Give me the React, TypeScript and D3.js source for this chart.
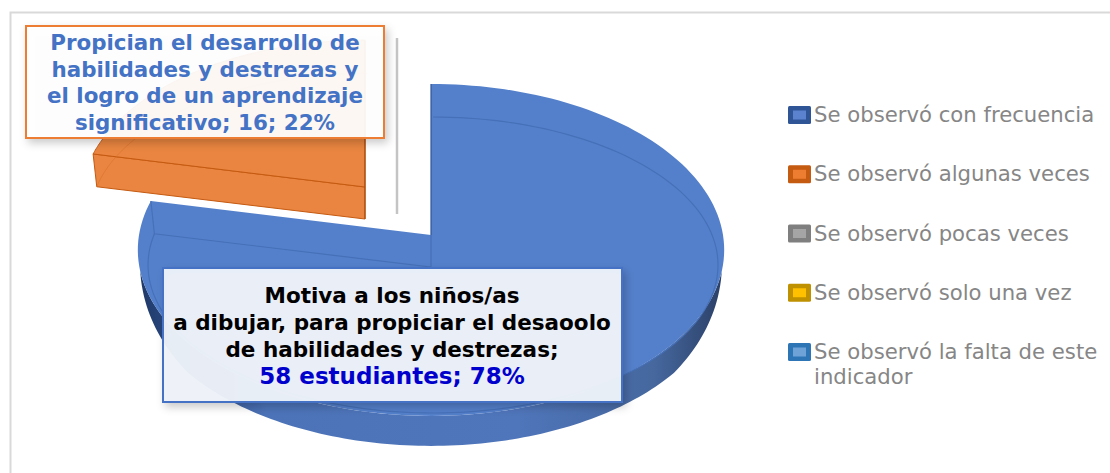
import { useMemo } from 'react'
import * as d3 from 'd3'

const categories = [
  'Se observó con frecuencia',
  'Se observó algunas veces',
  'Se observó pocas veces',
  'Se observó solo una vez',
  'Se observó la falta de este indicador',
]
const values = [58, 16, 0, 0, 0]
const swatchOuter = ['#2f5597', '#c55a11', '#7f7f7f', '#bf9000', '#2e75b6']
const swatchInner = ['#5b82cf', '#ed7d31', '#a5a5a5', '#ffc000', '#6fa3d8']
const orangeLabel = [
  'Propician el desarrollo de',
  'habilidades y destrezas y',
  'el logro de un aprendizaje',
  'significativo; 16; 22%',
]
const blueLabel = [
  'Motiva a los niños/as',
  'a dibujar, para propiciar el desaoolo',
  'de habilidades y destrezas;',
]
const blueValue = '58 estudiantes; 78%'

const width = 1110
const height = 473
const font = '"DejaVu Sans", sans-serif'

// circle -> screen, the pie is seen in perspective so apex is not the ellipse centre
const cx = 431
const cy = 235
const rx = 292
const ry = 164.6
const tilt = 0.09
const depth = 30

type Pt = [number, number]

function project(angle: number, r = 1, dx = 0, dy = 0): Pt {
  const X = Math.sin(angle) * r
  const Y = Math.cos(angle) * r
  const w = 1 + tilt * Y
  return [cx + dx + (rx * X) / w, cy + dy - (ry * Y) / w]
}

// second outline, the lower edge of the bevel that shows through the top face
function projectInner(angle: number, r = 1, dx = 0, dy = 0): Pt {
  return [433 + dx + 285 * Math.sin(angle) * r, 265 + dy - 148 * Math.cos(angle) * r]
}

const line = d3.line()

function sample(a0: number, a1: number, f: (a: number) => Pt) {
  return d3.range(0, 161).map(i => f(a0 + ((a1 - a0) * i) / 160))
}

// the side wall fades to nothing where it turns to the back
function wallDepth(angle: number) {
  const t = (-Math.cos(angle) - 0.22) / 0.4
  return depth * Math.sqrt(Math.max(0, Math.min(1, t)))
}

export default function App() {
  const arcs = useMemo(() => {
    const pie = d3.pie<number>().sort(null).value(d => d)
    return pie(values)
  }, [])
  const blue = arcs[0]
  const orange = arcs[1]
  const ox = -66
  const oy = -48
  const oR = 0.97
  const end = Math.PI * 2
  const legendY = d3.scalePoint<number>().domain([0, 1, 2, 3, 4]).range([115, 352])

  const wallTop = sample(Math.PI / 2, (Math.PI * 3) / 2, a => project(a))
  const wallBottom = sample(Math.PI / 2, (Math.PI * 3) / 2, a => project(a, 1, 0, wallDepth(a))).reverse()

  const orangeTop = sample(orange.startAngle, end, a => project(a, oR, ox, oy))
  const orangeLow = project(orange.startAngle, oR, ox, oy)
  const orangeInner = projectInner(orange.startAngle, oR, ox, oy)

  return (
    <svg width={width} height={height} style={{ position: 'absolute', left: 0, top: 0, background: '#fff' }}>
      <defs>
        <linearGradient id="wall" x1="0" x2="1" y1="0" y2="0">
          <stop offset="0" stopColor="#1f3864" />
          <stop offset="0.06" stopColor="#2a4a85" />
          <stop offset="0.22" stopColor="#4c73b8" />
          <stop offset="0.65" stopColor="#4f75ba" />
          <stop offset="0.88" stopColor="#46689f" />
          <stop offset="1" stopColor="#2b3f66" />
        </linearGradient>
        <filter id="shadow" x="-5%" y="-5%" width="112%" height="118%">
          <feDropShadow dx="3" dy="4" stdDeviation="4" floodColor="#000" floodOpacity="0.22" />
        </filter>
      </defs>

      <path d="M10.5,473V12.5H1110" fill="none" stroke="#d9d9d9" strokeWidth={2} />
      <line x1={397} x2={397} y1={38} y2={214} stroke="#c4c4c4" strokeWidth={2.5} />

      {/* blue slice */}
      <path d={line([...wallTop, ...wallBottom])! + 'Z'} fill="url(#wall)" />
      <path
        d={line([[cx, cy], ...sample(blue.startAngle, blue.endAngle, a => project(a))])! + 'Z'}
        fill="#5480cb"
      />
      <path
        d={line(sample(blue.startAngle, blue.endAngle, a => projectInner(a)))!}
        fill="none"
        stroke="#4670b8"
        strokeWidth={1.2}
      />
      <path
        d={line([project(blue.endAngle), projectInner(blue.endAngle), [cx, 267], [cx, cy]])!}
        fill="none"
        stroke="#4670b8"
        strokeWidth={1.2}
      />
      <path d={line([project(0), [cx, cy]])!} fill="none" stroke="#2f5597" strokeWidth={1.2} />

      {/* orange slice, pulled out */}
      <path
        d={line([[cx + ox, cy + oy], orangeLow, orangeInner, [cx + ox, 267 + oy], [cx + ox, cy + oy]])! + 'Z'}
        fill="#e98540"
        stroke="#c55a11"
      />
      <path d={line([[cx + ox, cy + oy], ...orangeTop])! + 'Z'} fill="#e98540" stroke="#c55a11" />
      <path
        d={line(sample(orange.startAngle, end, a => projectInner(a, oR, ox, oy)))!}
        fill="none"
        stroke="#d9702a"
        strokeOpacity={0.6}
      />
      <path d={line([project(0, oR, ox, oy), [cx + ox, 267 + oy]])!} stroke="#a84c0e" strokeWidth={1.2} />

      {/* data labels */}
      <rect x={26} y={26} width={358} height={112} fill="#fff" fillOpacity={0.93} stroke="#ed7d31" strokeWidth={2} filter="url(#shadow)" />
      <g fontFamily={font} fontWeight={700} fontSize={21.4} fill="#4472c4" textAnchor="middle">
        {orangeLabel.map((t, i) => (
          <text key={t} x={205} y={50 + i * 26.5}>{t}</text>
        ))}
      </g>
      <rect x={163} y={268} width={459} height={134} fill="#eef2f9" fillOpacity={0.96} stroke="#4472c4" strokeWidth={2} filter="url(#shadow)" />
      <g fontFamily={font} fontWeight={700} fontSize={21.5} fill="#000" textAnchor="middle">
        {blueLabel.map((t, i) => (
          <text key={t} x={392} y={303 + i * 27}>{t}</text>
        ))}
        <text x={392} y={384} fill="#0000cc" fontSize={23}>{blueValue}</text>
      </g>

      {/* legend */}
      <g fontFamily={font} fontSize={21.2} fill="#868686">
        {categories.map((c, i) => {
          const y = legendY(i)!
          const wrapped = i === 4 ? ['Se observó la falta de este', 'indicador'] : [c]
          return (
            <g key={c}>
              <rect x={788} y={y - 9} width={23} height={18} rx={1.5} fill={swatchOuter[i]} />
              <rect x={793} y={y - 4.5} width={13} height={9} fill={swatchInner[i]} />
              {wrapped.map((t, k) => (
                <text key={t} x={814} y={y + 7 + k * 25}>{t}</text>
              ))}
            </g>
          )
        })}
      </g>
    </svg>
  )
}
